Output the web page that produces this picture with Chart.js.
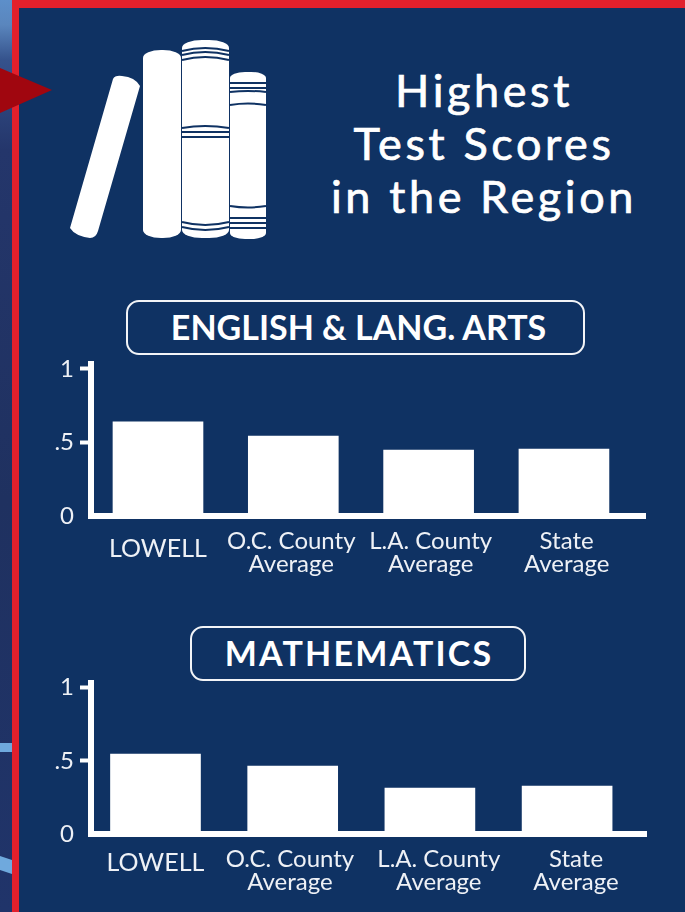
<!DOCTYPE html>
<html>
<head>
<meta charset="utf-8">
<title>Highest Test Scores in the Region</title>
<script src="https://cdn.jsdelivr.net/npm/chart.js@4"></script>
<style>
  html, body { margin: 0; padding: 0; }
  body { width: 685px; height: 912px; overflow: hidden; position: relative; background: #0f3263; font-family: Lato, sans-serif; color: #fff; }
  .strip { position: absolute; left: 0; top: 0; width: 12px; height: 912px;
    background: linear-gradient(180deg, #5d8fca 0, #5a86bd 25px, #35528c 60px, #24366b 150px, #1f3160 500px, #20346a 912px); }
  .ribbon { position: absolute; left: 0; width: 12px; background: #6fa9dd; }
  .frame { position: absolute; left: 12px; top: 0; width: 673px; height: 912px; box-sizing: border-box; border-left: 7px solid #e2202c; border-top: 8px solid #e2202c; background: #0f3263; }
  .arrow { position: absolute; left: 0; top: 0; }
  .icon { position: absolute; left: 0; top: 0; }
  .title { position: absolute; left: 300px; width: 368px; text-align: center; font-size: 45px; line-height: 53px; top: 64px; letter-spacing: 3.6px; -webkit-text-stroke: 0.7px #fff; }
  .pill { position: absolute; box-sizing: border-box; height: 55px; border: 2.5px solid #f2f4f7; border-radius: 13px; text-align: center; font-weight: 700; line-height: 50px; font-size: 34px; }
  #pill1 { left: 126px; top: 300px; width: 459px; padding-left: 6px; }
  #pill2 { left: 190px; top: 626px; width: 336px; letter-spacing: 2.2px; padding-left: 2px; }
  canvas { position: absolute; left: 0; }
  #englishChart { top: 340px; }
  #mathChart { top: 659px; }
</style>
</head>
<body>
<div class="strip"></div>
<div class="ribbon" style="top:743px;height:9px"></div>
<div class="ribbon" style="top:858px;height:14px;transform:skewY(18deg)"></div>
<div class="frame"></div>
<svg class="arrow" width="60" height="130"><path d="M0 68 L52 90 L0 113 Z" fill="#a0060f"/></svg>

<!-- books icon -->
<svg class="icon" width="300" height="260">
  <g fill="#fff">
    <path d="M113 79 Q115 75 122 76 Q135 77 140 86 L98 231 Q96 238 90 238 Q75 236 70 228 Z"/>
    <rect x="143" y="50" width="38" height="188" rx="18" ry="8"/>
    <rect x="182" y="40" width="47" height="198" rx="20" ry="8"/>
    <rect x="230" y="72" width="36" height="167" rx="15" ry="6"/>
  </g>
  <g fill="none" stroke="#0f3263" stroke-width="2">
    <path d="M182 51 Q205 45 229 51 M182 55 Q205 49 229 55 M182 60 Q205 54 229 60"/>
    <path d="M182 128 Q205 124 229 128 M182 132 H229 M182 137 H229"/>
    <path d="M182 222 Q205 228 229 222 M182 227 Q205 233 229 227"/>
    <path d="M230 83 H266 M230 88 H266 M230 92 Q248 90 266 92 M230 105 Q248 102 266 105"/>
    <path d="M230 206 Q248 209 266 206 M230 218 H266 M230 223 H266 M230 228 H266"/>
  </g>
</svg>

<div class="title">Highest<br>Test Scores<br>in the Region</div>
<div class="pill" id="pill1">ENGLISH &amp; LANG. ARTS</div>
<div class="pill" id="pill2">MATHEMATICS</div>

<canvas id="englishChart" width="685" height="250"></canvas>
<canvas id="mathChart" width="685" height="253"></canvas>

<script>
const categories = ["LOWELL", ["O.C. County", "Average"], ["L.A. County", "Average"], ["State", "Average"]];
const englishScores = [0.64, 0.544, 0.449, 0.456];
const mathScores = [0.547, 0.465, 0.314, 0.328];
const yTickValues = [0, 0.5, 1];
const yTickLabels = ["0", ".5", "1"];

function makeChart(id, scores, opts) {
  return new Chart(document.getElementById(id), {
    type: "bar",
    data: {
      datasets: [{
        data: scores.map((v, i) => ({ x: i, y: v })),
        backgroundColor: "#ffffff",
        barThickness: 90,
      }],
    },
    options: {
      responsive: false,
      animation: false,
      layout: { padding: { top: 24, right: 685 - opts.right } },
      plugins: { legend: { display: false }, tooltip: { enabled: false } },
      scales: {
        x: {
          type: "linear",
          offset: false,
          min: opts.xMin,
          max: opts.xMax,
          afterBuildTicks: (s) => { s.ticks = categories.map((c, i) => ({ value: i + opts.labelShift[i] })); },
          afterFit: (s) => { s.height = opts.xHeight; },
          border: { color: "#fff", width: 6 },
          grid: { drawOnChartArea: false, drawTicks: false, offset: false },
          ticks: {
            autoSkip: false,
            maxRotation: 0,
            padding: opts.labelPadding,
            color: "#eef1f6",
            font: (ctx) => (ctx.index === 0
              ? { family: "Lato", size: 25, lineHeight: opts.lowellLine }
              : { family: "Lato", size: 24, lineHeight: 0.96 }),
            callback: (v, i) => categories[i],
          },
        },
        y: {
          min: 0,
          max: opts.yMax,
          afterBuildTicks: (s) => { s.ticks = yTickValues.map((v) => ({ value: v })); },
          afterFit: (s) => { s.width = 91; },
          border: { color: "#fff", width: 6 },
          grid: {
            drawOnChartArea: false,
            tickLength: 11,
            tickWidth: 4,
            tickColor: (ctx) => (ctx.tick && ctx.tick.value === 0 ? "rgba(0,0,0,0)" : "#fff"),
          },
          ticks: {
            padding: 6,
            color: "#eef1f6",
            font: { family: "Lato", size: 24 },
            callback: (v, i) => yTickLabels[i],
          },
        },
      },
    },
  });
}

makeChart("englishChart", englishScores, {
  right: 645, xMin: -0.495, xMax: 3.599, yMax: 1.034, xHeight: 74,
  labelShift: [0, -0.015, 0.015, 0.02], labelPadding: 14, lowellLine: 1.5,
});
makeChart("mathChart", mathScores, {
  right: 646, xMin: -0.47, xMax: 3.575, yMax: 1.032, xHeight: 78,
  labelShift: [0, -0.02, 0.065, 0.065], labelPadding: 14, lowellLine: 1.2,
});
</script>
</body>
</html>
